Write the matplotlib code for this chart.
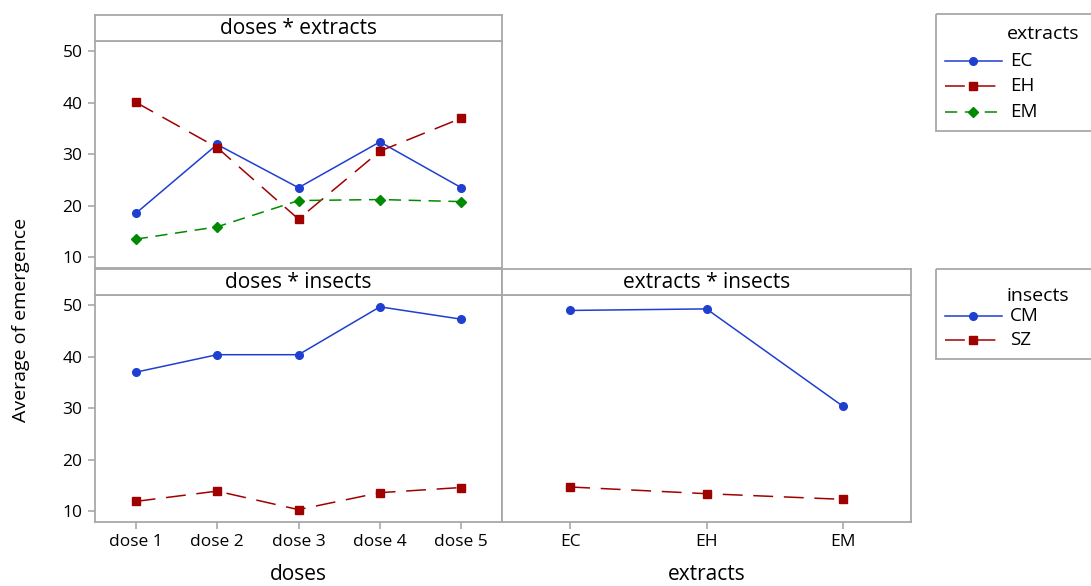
import numpy as np
import matplotlib.pyplot as plt
from matplotlib.patches import Rectangle
from matplotlib.lines import Line2D

plt.rcParams['font.family'] = ['Open Sans', 'DejaVu Sans']

doses = ["dose 1", "dose 2", "dose 3", "dose 4", "dose 5"]
extracts = ["EC", "EH", "EM"]
insects = ["CM", "SZ"]

# doses * extracts
ec_by_dose = [18.5, 31.9, 23.5, 32.4, 23.5]
eh_by_dose = [40.1, 31.3, 17.4, 30.6, 37.0]
em_by_dose = [13.5, 15.9, 21.0, 21.2, 20.8]

# doses * insects
cm_by_dose = [37.0, 40.4, 40.4, 49.7, 47.3]
sz_by_dose = [11.9, 13.9, 10.3, 13.6, 14.6]

# extracts * insects
cm_by_extract = [49.0, 49.3, 30.4]
sz_by_extract = [14.7, 13.4, 12.3]

W, H = 1091, 586
BLUE, RED, GREEN = "#1f3fd0", "#a00000", "#008a00"
GRAY = "#a8a8a8"

styles = {
    "EC": dict(color=BLUE, ls="-", marker="o", ms=5.5),
    "EH": dict(color=RED, ls=(0, (13, 7)), marker="s", ms=6),
    "EM": dict(color=GREEN, ls=(0, (8, 5)), marker="D", ms=5.5),
    "CM": dict(color=BLUE, ls="-", marker="o", ms=5.5),
    "SZ": dict(color=RED, ls=(0, (13, 7)), marker="s", ms=6),
}

fig = plt.figure(figsize=(W / 100, H / 100), dpi=100)


def rect(x0, y0, x1, y1):
    return [x0 / W, 1 - y1 / H, (x1 - x0) / W, (y1 - y0) / H]


def style_axes(ax):
    for s in ax.spines.values():
        s.set_color(GRAY)
        s.set_linewidth(1.3)
    ax.tick_params(colors=GRAY, labelcolor="black", labelsize=12.5, length=5, width=1.2, pad=4)


def strip(x0, y0, x1, y1, title):
    sa = fig.add_axes(rect(x0, y0, x1, y1))
    sa.set_xticks([])
    sa.set_yticks([])
    for s in sa.spines.values():
        s.set_color(GRAY)
        s.set_linewidth(1.3)
    sa.text(0.5, 0.48, title, ha="center", va="center", fontsize=15, transform=sa.transAxes)


ylim = (7.9, 52.0)

# top: doses * extracts
ax1 = fig.add_axes(rect(95, 41, 502, 268))
x = np.arange(1, len(doses) + 1)
for name, vals in zip(extracts, [ec_by_dose, eh_by_dose, em_by_dose]):
    ax1.plot(x, vals, lw=1.1, **styles[name])
ax1.set_xlim(0.5, 5.5)
ax1.set_ylim(*ylim)
ax1.set_yticks([10, 20, 30, 40, 50])
ax1.set_xticks([])
style_axes(ax1)
strip(95, 15, 502, 41, "doses * extracts")

# bottom left: doses * insects
ax2 = fig.add_axes(rect(95, 295, 502, 522))
for name, vals in zip(insects, [cm_by_dose, sz_by_dose]):
    ax2.plot(x, vals, lw=1.1, **styles[name])
ax2.set_xlim(0.5, 5.5)
ax2.set_ylim(*ylim)
ax2.set_yticks([10, 20, 30, 40, 50])
ax2.set_xticks(x)
ax2.set_xticklabels(doses)
style_axes(ax2)
ax2.set_xlabel("doses", fontsize=15, labelpad=10)
strip(95, 269, 502, 295, "doses * insects")

# bottom right: extracts * insects
ax3 = fig.add_axes(rect(502, 295, 911, 522))
xe = np.arange(1, len(extracts) + 1)
for name, vals in zip(insects, [cm_by_extract, sz_by_extract]):
    ax3.plot(xe, vals, lw=1.1, **styles[name])
ax3.set_xlim(0.5, 3.5)
ax3.set_ylim(*ylim)
ax3.set_yticks([])
ax3.set_xticks(xe)
ax3.set_xticklabels(extracts)
style_axes(ax3)
ax3.set_xlabel("extracts", fontsize=15, labelpad=10)
strip(502, 269, 911, 295, "extracts * insects")

fig.text(21 / W, 1 - 320 / H, "Average of emergence", rotation=90,
         ha="center", va="center", fontsize=14)

# legends drawn on an overlay in pixel coordinates
ov = fig.add_axes([0, 0, 1, 1])
ov.set_xlim(0, W)
ov.set_ylim(H, 0)
ov.axis("off")


def legend_box(y0, y1, title, names, ys, title_y):
    ov.add_patch(Rectangle((936, y0), 170, y1 - y0, fill=False, ec=GRAY, lw=1.3, clip_on=False))
    ov.text(1007, title_y, title, ha="left", va="center", fontsize=14)
    for name, yy in zip(names, ys):
        st = styles[name]
        ov.add_line(Line2D([945, 1002], [yy, yy], color=st["color"], ls=st["ls"], lw=1.1))
        ov.add_line(Line2D([973], [yy], color=st["color"], marker=st["marker"], ms=st["ms"], ls="none"))
        ov.text(1010, yy, name, ha="left", va="center", fontsize=13.5)


legend_box(14, 131, "extracts", extracts, [61, 86, 112], 34)
legend_box(269, 359, "insects", insects, [316, 340], 296)

fig.savefig("out.png", dpi=100)
plt.close()
